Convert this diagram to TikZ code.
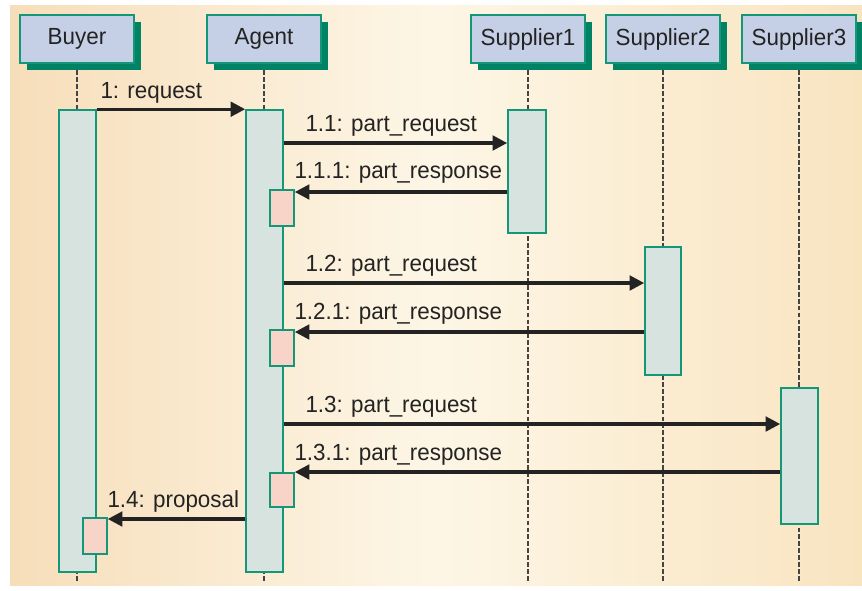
\documentclass[tikz,border=0pt]{standalone}
\usepackage{fontspec}
\setmainfont{Liberation Sans}[FakeStretch=0.96]
\usetikzlibrary{arrows.meta,fit,shadows}

\definecolor{bgside}{RGB}{247,222,186}
\definecolor{bgright}{RGB}{249,228,192}
\definecolor{bgmid}{RGB}{253,246,230}
\definecolor{headfill}{RGB}{197,207,230}
\definecolor{edge}{RGB}{20,150,120}
\definecolor{shadowgreen}{RGB}{0,130,100}
\definecolor{actfill}{RGB}{215,227,223}
\definecolor{focusfill}{RGB}{248,212,200}
\definecolor{ink}{RGB}{35,35,35}

\tikzset{every picture/.style={line width=0.75pt}}
\tikzset{
	head/.style={draw=edge, line width=1.4pt, fill=headfill, minimum width=86pt, minimum height=36pt, inner sep=0pt, font=\fontsize{17.5}{20}\selectfont, text=ink, drop shadow={shadow xshift=5.25pt, shadow yshift=-5.25pt, fill=shadowgreen, opacity=1}},
	life/.style={draw=ink!85, line width=1.2pt, dash pattern=on 3.6pt off 1.6pt},
	act/.style={draw=edge, line width=1.2pt, fill=actfill, inner sep=0pt},
	focus/.style={draw=edge, line width=1.2pt, fill=focusfill, inner sep=0pt},
	msg/.style={draw=ink, line width=2.4pt, -{Triangle[length=11pt,width=11pt]}},
	lbl/.style={font=\fontsize{17.5}{20}\selectfont, text=ink, inner sep=0pt, anchor=base west}
}

\begin{document}
\begin{tikzpicture}[x=0.75pt,y=0.75pt,yscale=-1,xscale=1]
		\useasboundingbox (0,0) rectangle (862,590);
		
		%background
		\shade[left color=bgside, right color=bgright, middle color=bgmid] (10,5) rectangle (862,585);
		
		%message levels
		\coordinate (m11) at (0,143);
		\coordinate (m111) at (0,192);
		\coordinate (m12) at (0,283);
		\coordinate (m121) at (0,332);
		\coordinate (m13) at (0,424);
		\coordinate (m131) at (0,472);
		\coordinate (m14) at (0,519);
		\coordinate (bottom) at (0,582);
		
		%objects and lifelines
		\foreach \n/\x/\t in {buyer/77/Buyer, agent/264/Agent, sup1/528/Supplier1, sup2/663/Supplier2, sup3/799/Supplier3}{
			\draw[life] (\x,63) -- (\x,582);
			\node[head] (\n) at (\x,39) {\t};
		}
		
		%activations
		\node[act, fit={(59,110) (96,572)}] (buyerAct) {};
		\node[act, fit={(246,110) (283,572)}] (agentAct) {};
		\node[act, fit={(508,110) (546,233)}] (sup1Act) {};
		\node[act, fit={(645,247) (681,375)}] (sup2Act) {};
		\node[act, fit={(781,388) (818,524)}] (sup3Act) {};
		\node[focus, fit={(270,190) (294,226)}] (agentFoc1) {};
		\node[focus, fit={(270,330) (294,366)}] (agentFoc2) {};
		\node[focus, fit={(270,473) (294,507)}] (agentFoc3) {};
		\node[focus, fit={(83,518) (107,554)}] (buyerFoc) {};
		
		%messages
		\draw[msg] (buyerAct.north east) -- (agentAct.north west);
		\draw[msg] (agentAct.east |- m11) -- (sup1Act.west |- m11);
		\draw[msg] (sup1Act.west |- m111) -- (agentFoc1.east |- m111);
		\draw[msg] (agentAct.east |- m12) -- (sup2Act.west |- m12);
		\draw[msg] (sup2Act.west |- m121) -- (agentFoc2.east |- m121);
		\draw[msg] (agentAct.east |- m13) -- (sup3Act.west |- m13);
		\draw[msg] (sup3Act.west |- m131) -- (agentFoc3.east |- m131);
		\draw[msg] (agentAct.west |- m14) -- (buyerFoc.east |- m14);
		
		\node[lbl] (lbl1) at (100,98) {1: request};
		\node[lbl] (lbl11) at (305,131) {1.1: part\_request};
		\node[lbl] (lbl111) at (294,178) {1.1.1: part\_response};
		\node[lbl] (lbl12) at (305,271) {1.2: part\_request};
		\node[lbl] (lbl121) at (294,319) {1.2.1: part\_response};
		\node[lbl] (lbl13) at (305,412) {1.3: part\_request};
		\node[lbl] (lbl131) at (294,460) {1.3.1: part\_response};
		\node[lbl] (lbl14) at (107,507) {1.4: proposal};
		
	\end{tikzpicture}
\end{document}
